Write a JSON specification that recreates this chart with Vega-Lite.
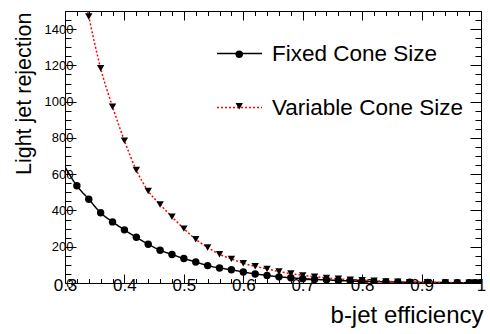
{
  "$schema": "https://vega.github.io/schema/vega-lite/v6.json",
  "width": 416,
  "height": 272,
  "autosize": "none",
  "padding": {"left": 65, "top": 11, "right": 9, "bottom": 51},
  "background": "white",
  "config": {
    "view": {"stroke": null},
    "axis": {"domainColor": "black", "tickColor": "black", "labelColor": "black", "titleColor": "black", "labelFont": "Liberation Sans", "titleFont": "Liberation Sans", "grid": false, "domainWidth": 1, "tickWidth": 1, "titleFontWeight": "normal", "labelFlush": false, "labelOverlap": false}
  },
  "datasets": {
    "curves": [
      {"series": "Fixed Cone Size", "eff": 0.30, "rej": 640},
      {"series": "Fixed Cone Size", "eff": 0.32, "rej": 536},
      {"series": "Fixed Cone Size", "eff": 0.34, "rej": 462},
      {"series": "Fixed Cone Size", "eff": 0.36, "rej": 387},
      {"series": "Fixed Cone Size", "eff": 0.38, "rej": 337},
      {"series": "Fixed Cone Size", "eff": 0.40, "rej": 293},
      {"series": "Fixed Cone Size", "eff": 0.42, "rej": 252},
      {"series": "Fixed Cone Size", "eff": 0.44, "rej": 214},
      {"series": "Fixed Cone Size", "eff": 0.46, "rej": 181},
      {"series": "Fixed Cone Size", "eff": 0.48, "rej": 157},
      {"series": "Fixed Cone Size", "eff": 0.50, "rej": 135},
      {"series": "Fixed Cone Size", "eff": 0.52, "rej": 116},
      {"series": "Fixed Cone Size", "eff": 0.54, "rej": 96},
      {"series": "Fixed Cone Size", "eff": 0.56, "rej": 83},
      {"series": "Fixed Cone Size", "eff": 0.58, "rej": 73},
      {"series": "Fixed Cone Size", "eff": 0.60, "rej": 61},
      {"series": "Fixed Cone Size", "eff": 0.62, "rej": 50},
      {"series": "Fixed Cone Size", "eff": 0.64, "rej": 42},
      {"series": "Fixed Cone Size", "eff": 0.66, "rej": 34},
      {"series": "Fixed Cone Size", "eff": 0.68, "rej": 29},
      {"series": "Fixed Cone Size", "eff": 0.70, "rej": 24},
      {"series": "Fixed Cone Size", "eff": 0.72, "rej": 20},
      {"series": "Fixed Cone Size", "eff": 0.74, "rej": 17},
      {"series": "Fixed Cone Size", "eff": 0.76, "rej": 14},
      {"series": "Fixed Cone Size", "eff": 0.78, "rej": 11},
      {"series": "Fixed Cone Size", "eff": 0.80, "rej": 9},
      {"series": "Fixed Cone Size", "eff": 0.82, "rej": 7},
      {"series": "Fixed Cone Size", "eff": 0.84, "rej": 6},
      {"series": "Fixed Cone Size", "eff": 0.86, "rej": 5},
      {"series": "Fixed Cone Size", "eff": 0.88, "rej": 4},
      {"series": "Fixed Cone Size", "eff": 0.91, "rej": 3},
      {"series": "Fixed Cone Size", "eff": 0.94, "rej": 2},
      {"series": "Fixed Cone Size", "eff": 0.96, "rej": 1.5},
      {"series": "Fixed Cone Size", "eff": 0.98, "rej": 1},
      {"series": "Fixed Cone Size", "eff": 0.99, "rej": 1},
      {"series": "Fixed Cone Size", "eff": 1.00, "rej": 1},
      {"series": "Variable Cone Size", "eff": 0.32, "rej": 1800},
      {"series": "Variable Cone Size", "eff": 0.34, "rej": 1470},
      {"series": "Variable Cone Size", "eff": 0.36, "rej": 1184},
      {"series": "Variable Cone Size", "eff": 0.38, "rej": 972},
      {"series": "Variable Cone Size", "eff": 0.40, "rej": 785},
      {"series": "Variable Cone Size", "eff": 0.42, "rej": 623},
      {"series": "Variable Cone Size", "eff": 0.44, "rej": 507},
      {"series": "Variable Cone Size", "eff": 0.46, "rej": 433},
      {"series": "Variable Cone Size", "eff": 0.48, "rej": 365},
      {"series": "Variable Cone Size", "eff": 0.50, "rej": 300},
      {"series": "Variable Cone Size", "eff": 0.52, "rej": 241},
      {"series": "Variable Cone Size", "eff": 0.54, "rej": 196},
      {"series": "Variable Cone Size", "eff": 0.56, "rej": 159},
      {"series": "Variable Cone Size", "eff": 0.58, "rej": 133},
      {"series": "Variable Cone Size", "eff": 0.60, "rej": 109},
      {"series": "Variable Cone Size", "eff": 0.62, "rej": 92},
      {"series": "Variable Cone Size", "eff": 0.64, "rej": 78},
      {"series": "Variable Cone Size", "eff": 0.66, "rej": 63},
      {"series": "Variable Cone Size", "eff": 0.68, "rej": 52},
      {"series": "Variable Cone Size", "eff": 0.70, "rej": 42},
      {"series": "Variable Cone Size", "eff": 0.72, "rej": 35},
      {"series": "Variable Cone Size", "eff": 0.74, "rej": 28},
      {"series": "Variable Cone Size", "eff": 0.76, "rej": 23},
      {"series": "Variable Cone Size", "eff": 0.78, "rej": 18},
      {"series": "Variable Cone Size", "eff": 0.80, "rej": 15},
      {"series": "Variable Cone Size", "eff": 0.82, "rej": 12},
      {"series": "Variable Cone Size", "eff": 0.84, "rej": 9},
      {"series": "Variable Cone Size", "eff": 0.86, "rej": 7},
      {"series": "Variable Cone Size", "eff": 0.88, "rej": 5},
      {"series": "Variable Cone Size", "eff": 0.91, "rej": 4},
      {"series": "Variable Cone Size", "eff": 0.94, "rej": 3},
      {"series": "Variable Cone Size", "eff": 0.96, "rej": 2},
      {"series": "Variable Cone Size", "eff": 0.98, "rej": 1.5},
      {"series": "Variable Cone Size", "eff": 0.99, "rej": 1},
      {"series": "Variable Cone Size", "eff": 1.00, "rej": 1}
    ]
  },
  "data": {"name": "curves"},
  "resolve": {"axis": {"x": "independent", "y": "independent"}},
  "layer": [
    {
      "mark": {"type": "line", "interpolate": "monotone", "strokeWidth": 1.5, "clip": true},
      "encoding": {
        "x": {"field": "eff", "type": "quantitative", "scale": {"domain": [0.3, 1], "nice": false, "zero": false},
          "axis": {"orient": "bottom", "values": [0.3, 0.4, 0.5, 0.6, 0.7, 0.8, 0.9, 1], "format": "~g", "tickSize": -9, "labelPadding": 3, "labelFontSize": 17,
            "title": "b-jet efficiency", "titleFontSize": 24, "titleAnchor": "end", "titleAlign": "right", "titleBaseline": "alphabetic", "titleX": 418, "titleY": 39}},
        "y": {"field": "rej", "type": "quantitative", "scale": {"domain": [0, 1500], "nice": false, "zero": true},
          "axis": {"orient": "left", "values": [0, 200, 400, 600, 800, 1000, 1200, 1400], "format": "d", "tickSize": -11, "labelPadding": 3, "labelFontSize": 13,
            "title": "Light jet rejection", "titleFontSize": 21.5, "titleAngle": -90, "titleAnchor": "end", "titleAlign": "right", "titleBaseline": "alphabetic", "titleX": -35, "titleY": 1}},
        "color": {"field": "series", "type": "nominal", "scale": {"domain": ["Fixed Cone Size", "Variable Cone Size"], "range": ["black", "red"]},
          "legend": {"orient": "none", "legendX": 151, "legendY": 19, "title": null, "symbolType": "stroke", "symbolSize": 2025, "symbolStrokeWidth": 1.5, "labelFontSize": 22.5, "labelFont": "Liberation Sans", "labelColor": "black", "labelOffset": 9, "labelLimit": 400, "padding": 0, "rowPadding": 19}},
        "strokeDash": {"field": "series", "type": "nominal", "scale": {"domain": ["Fixed Cone Size", "Variable Cone Size"], "range": [[1, 0], [2, 2]]},
          "legend": {"orient": "none", "legendX": 151, "legendY": 19, "title": null, "symbolType": "stroke", "symbolSize": 2025, "symbolStrokeWidth": 1.5, "labelFontSize": 22.5, "labelFont": "Liberation Sans", "labelColor": "black", "labelOffset": 9, "labelLimit": 400, "padding": 0, "rowPadding": 19}}
      }
    },
    {
      "transform": [{"filter": "datum.eff > 0.305"}],
      "mark": {"type": "point", "filled": true, "opacity": 1, "color": "black", "clip": true},
      "encoding": {
        "x": {"field": "eff", "type": "quantitative", "scale": {"domain": [0.3, 1], "nice": false, "zero": false},
          "axis": {"orient": "bottom", "values": [0.32, 0.34, 0.36, 0.38, 0.42, 0.44, 0.46, 0.48, 0.52, 0.54, 0.56, 0.58, 0.62, 0.64, 0.66, 0.68, 0.72, 0.74, 0.76, 0.78, 0.82, 0.84, 0.86, 0.88, 0.92, 0.94, 0.96, 0.98], "tickSize": -4.5, "labels": false, "domain": false, "title": null}},
        "y": {"field": "rej", "type": "quantitative", "scale": {"domain": [0, 1500], "nice": false, "zero": true},
          "axis": {"orient": "left", "values": [50, 100, 150, 250, 300, 350, 450, 500, 550, 650, 700, 750, 850, 900, 950, 1050, 1100, 1150, 1250, 1300, 1350, 1450, 1500], "tickSize": -6, "labels": false, "domain": false, "title": null}},
        "shape": {"field": "series", "type": "nominal", "scale": {"range": ["circle", "triangle-down"]},
          "legend": {"orient": "none", "legendX": 163, "legendY": 32, "title": null, "symbolSize": 55, "symbolFillColor": "black", "symbolStrokeColor": "black", "labelFontSize": 22.5, "labelExpr": "''", "labelLimit": 400, "padding": 0, "rowPadding": 29}},
        "size": {"value": 55}
      }
    },
    {
      "mark": {"type": "point", "opacity": 0},
      "encoding": {
        "x": {"field": "eff", "type": "quantitative", "scale": {"domain": [0.3, 1], "nice": false, "zero": false},
          "axis": {"orient": "top", "values": [0.3, 0.4, 0.5, 0.6, 0.7, 0.8, 0.9, 1], "tickSize": -9, "labels": false, "title": null}},
        "y": {"field": "rej", "type": "quantitative", "scale": {"domain": [0, 1500], "nice": false, "zero": true},
          "axis": {"orient": "right", "values": [0, 200, 400, 600, 800, 1000, 1200, 1400], "tickSize": -11, "labels": false, "title": null}}
      }
    },
    {
      "mark": {"type": "point", "opacity": 0},
      "encoding": {
        "x": {"field": "eff", "type": "quantitative", "scale": {"domain": [0.3, 1], "nice": false, "zero": false},
          "axis": {"orient": "top", "values": [0.32, 0.34, 0.36, 0.38, 0.42, 0.44, 0.46, 0.48, 0.52, 0.54, 0.56, 0.58, 0.62, 0.64, 0.66, 0.68, 0.72, 0.74, 0.76, 0.78, 0.82, 0.84, 0.86, 0.88, 0.92, 0.94, 0.96, 0.98], "tickSize": -4.5, "labels": false, "domain": false, "title": null}},
        "y": {"field": "rej", "type": "quantitative", "scale": {"domain": [0, 1500], "nice": false, "zero": true},
          "axis": {"orient": "right", "values": [50, 100, 150, 250, 300, 350, 450, 500, 550, 650, 700, 750, 850, 900, 950, 1050, 1100, 1150, 1250, 1300, 1350, 1450, 1500], "tickSize": -6, "labels": false, "domain": false, "title": null}}
      }
    }
  ]
}
